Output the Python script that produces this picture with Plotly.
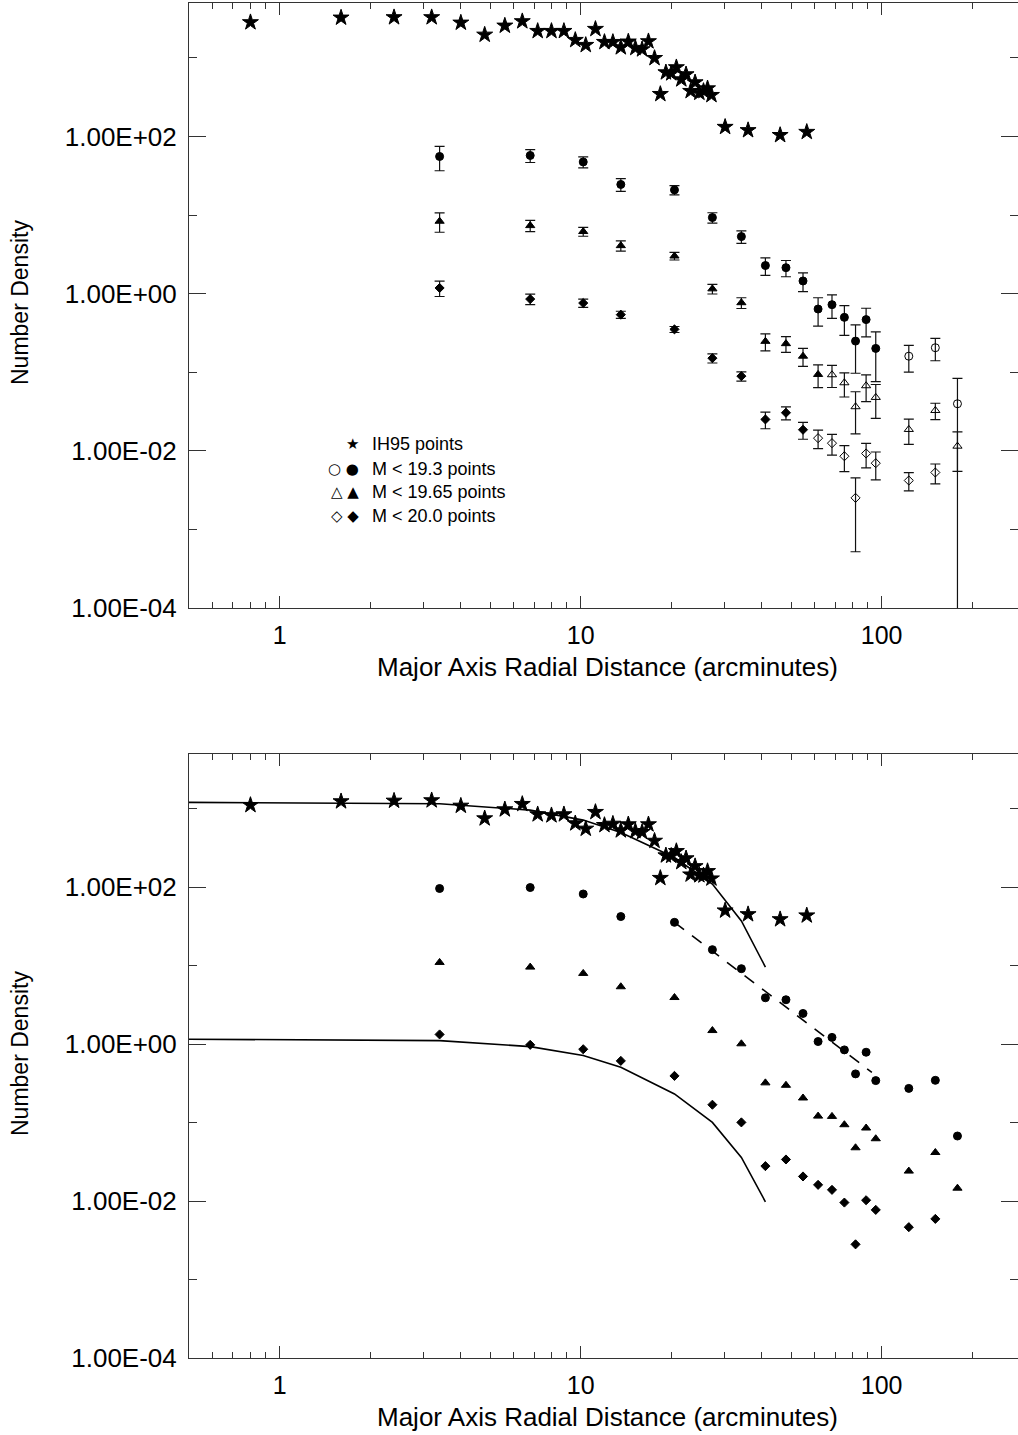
import plotly.graph_objects as go

# ---------------- data ----------------
# IH95 star points (radius in arcmin)
r_star = [0.8, 1.6, 2.4, 3.2, 4.0, 4.8, 5.6, 6.4, 7.2, 8.0, 8.8, 9.6, 10.4, 11.2,
          12.0, 12.8, 13.6, 14.4, 15.2, 16.0, 16.8, 17.6, 18.4, 19.2, 20.0, 20.8,
          21.6, 22.4, 23.2, 24.0, 24.8, 25.6, 26.4, 27.2, 30.2, 36.0, 46.0, 56.4]
n_star_top = [2833, 3245, 3280, 3280, 2800, 1968, 2564, 2917, 2193, 2193, 2193, 1686,
              1456, 2328, 1589, 1589, 1361, 1608, 1334, 1282, 1622, 993, 346, 653,
              635, 757, 532, 616, 378, 487, 359, 378, 408, 336, 132, 120, 104, 114]
n_star_bot = [1114, 1242, 1264, 1279, 1091, 753, 981, 1148, 848, 824, 848, 651,
              556, 908, 619, 643, 530, 632, 519, 504, 632, 390, 131, 254,
              251, 288, 209, 233, 145, 185, 142, 141, 160, 129, 50.4, 45.2, 39.0, 43.6]

# radial bins of the new points
r_pts = [3.4, 6.8, 10.2, 13.6, 20.5, 27.4, 34.2, 41.1, 48.1, 54.8, 61.5, 68.4,
         75.2, 81.9, 88.8, 95.6, 123.1, 150.8, 178.6]

# M < 19.3 (circles)
circ_top = [55.6, 57.3, 47.4, 24.5, 20.9, 9.29, 5.32, 2.28, 2.14, 1.45, 0.637, 0.724,
            0.499, 0.249, 0.467, 0.201, 0.160, 0.205, 0.0397]
circ_err = [19.0, 10.7, 7.5, 4.5, 2.8, 1.4, 0.95, 0.57, 0.50, 0.39, 0.25, 0.24,
            0.205, 0.152, 0.185, 0.125, 0.060, 0.065, 0.044]
circ_bot = [96.3, 99.1, 82.0, 42.3, 35.7, 16.0, 9.16, 3.90, 3.68, 2.46, 1.08, 1.22,
            0.845, 0.418, 0.789, 0.343, 0.273, 0.346, 0.0675]
n_circ_filled = 16

# M < 19.65 (triangles)
tri_top = [8.34, 7.34, 6.17, 4.08, 3.01, 1.15, 0.767, 0.247, 0.231, 0.160, 0.0937,
           0.0929, 0.0734, 0.0364, 0.0673, 0.0478, 0.0187, 0.0326, 0.01146]
tri_err = [2.3, 1.2, 0.8, 0.6, 0.33, 0.16, 0.12, 0.06, 0.052, 0.041, 0.030,
           0.029, 0.025, 0.020, 0.025, 0.022, 0.0066, 0.0077, 0.006]
tri_bot = [11.0, 9.59, 7.97, 5.39, 3.93, 1.49, 1.01, 0.321, 0.299, 0.206, 0.121,
           0.120, 0.094, 0.0478, 0.0853, 0.0623, 0.0241, 0.0416, 0.0146]
n_tri_filled = 11

# M < 20.0 (diamonds)
dia_top = [1.18, 0.853, 0.759, 0.540, 0.351, 0.151, 0.0892, 0.0251, 0.0305, 0.01854,
           0.01449, 0.01251, 0.00853, 0.00252, 0.00925, 0.00696, 0.00419, 0.0053]
dia_err = [0.26, 0.13, 0.09, 0.057, 0.031, 0.020, 0.012, 0.006, 0.0058, 0.0045,
           0.0038, 0.0037, 0.0031, 0.0020, 0.0032, 0.0027, 0.0011, 0.0015]
dia_bot = [1.33, 0.98, 0.861, 0.612, 0.394, 0.169, 0.1007, 0.0279, 0.0339, 0.0206,
           0.0161, 0.0139, 0.00957, 0.00281, 0.01025, 0.00772, 0.00465, 0.00593]
n_dia_filled = 10

# model profiles (bottom panel)
r_model = [0.5, 3.4, 6.8, 10.2, 13.6, 20.5, 27.4, 34.2, 41.1]
model_hi = [1208, 1160, 961, 717, 497, 239, 110, 37.2, 9.6]
model_lo = [1.156, 1.11, 0.931, 0.715, 0.507, 0.232, 0.1006, 0.036, 0.0098]
# power-law fit (dashed)
r_fit = [20.5, 92.8]
n_fit = [35.7, 0.437]

# axis ticks
y_major = [1e-4, 1e-2, 1, 1e2]
y_major_text = ["1.00E-04", "1.00E-02", "1.00E+00", "1.00E+02"]
y_minor = [1e-3, 1e-1, 10, 1e3]
x_major = [1, 10, 100]
x_major_text = ["1", "10", "100"]
x_minor = [0.6, 0.7, 0.8, 0.9, 2, 3, 4, 5, 6, 7, 8, 9,
           20, 30, 40, 50, 60, 70, 80, 90, 200, 300]

legend_symbols = ["\u2605", "\u25CB \u25CF", "\u25B3 \u25B2", "\u25C7 \u25C6"]
legend_labels = ["IH95 points", "M < 19.3 points", "M < 19.65 points", "M < 20.0 points"]

# ---------------- figure ----------------
FONT = "Arial, Liberation Sans, Helvetica, sans-serif"
BLACK = "#000000"
AX = "#333333"
W, H = 1018, 1435
ML, MR, MT, MB = 189, 0, 3, 77
ph = H - MT - MB


def py(p):
    return (H - MB - p) / ph


def px(p):
    return (p - ML) / (W - ML - MR)


fig = go.Figure()

ebar = dict(type="data", symmetric=True, color="#111111", thickness=1.2, width=5)


def add_pts(x, y, err, symbol, size, xa, ya):
    tr = dict(x=x, y=y, mode="markers", xaxis=xa, yaxis=ya, showlegend=False,
              marker=dict(symbol=symbol, size=size, color=BLACK,
                          line=dict(color=BLACK, width=1)))
    if err is not None:
        tr["error_y"] = dict(array=err, **ebar)
    fig.add_trace(go.Scatter(**tr))


STAR = 12
# top panel
add_pts(r_star, n_star_top, None, "star", STAR, "x", "y")
add_pts(r_pts[:n_circ_filled], circ_top[:n_circ_filled], circ_err[:n_circ_filled], "circle", 8, "x", "y")
add_pts(r_pts[n_circ_filled:], circ_top[n_circ_filled:], circ_err[n_circ_filled:], "circle-open", 8, "x", "y")
add_pts(r_pts[:n_tri_filled], tri_top[:n_tri_filled], tri_err[:n_tri_filled], "triangle-up", 8, "x", "y")
add_pts(r_pts[n_tri_filled:], tri_top[n_tri_filled:], tri_err[n_tri_filled:], "triangle-up-open", 8, "x", "y")
add_pts(r_pts[:n_dia_filled], dia_top[:n_dia_filled], dia_err[:n_dia_filled], "diamond", 7, "x", "y")
add_pts(r_pts[n_dia_filled:len(dia_top)], dia_top[n_dia_filled:], dia_err[n_dia_filled:], "diamond-open", 7, "x", "y")

# bottom panel
fig.add_trace(go.Scatter(x=r_model, y=model_hi, mode="lines", xaxis="x2", yaxis="y2",
                         showlegend=False, line=dict(color=BLACK, width=1.6)))
fig.add_trace(go.Scatter(x=r_model, y=model_lo, mode="lines", xaxis="x2", yaxis="y2",
                         showlegend=False, line=dict(color=BLACK, width=1.6)))
fig.add_trace(go.Scatter(x=r_fit, y=n_fit, mode="lines", xaxis="x2", yaxis="y2",
                         showlegend=False, line=dict(color=BLACK, width=1.6, dash="12px,10px")))
add_pts(r_star, n_star_bot, None, "star", STAR, "x2", "y2")
add_pts(r_pts, circ_bot, None, "circle", 8, "x2", "y2")
add_pts(r_pts, tri_bot, None, "triangle-up", 8, "x2", "y2")
add_pts(r_pts[:len(dia_bot)], dia_bot, None, "diamond", 7, "x2", "y2")

xcommon = dict(type="log", range=[-0.30103, 2.453], showgrid=False, zeroline=False,
               showline=True, linecolor=AX, linewidth=1, mirror="ticks",
               ticks="inside", ticklen=12, tickcolor=AX, tickwidth=1,
               tickmode="array", tickvals=x_major, ticktext=x_major_text,
               tickfont=dict(family=FONT, size=25, color=BLACK),
               ticklabelstandoff=5,
               minor=dict(tickmode="array", tickvals=x_minor, ticks="inside",
                          ticklen=6, tickcolor=AX, tickwidth=1, showgrid=False))
ycommon = dict(type="log", range=[-4, 3.698], showgrid=False, zeroline=False,
               showline=True, linecolor=AX, linewidth=1, mirror="ticks",
               ticks="inside", ticklen=17, tickcolor=AX, tickwidth=1,
               tickmode="array", tickvals=y_major, ticktext=y_major_text,
               tickfont=dict(family=FONT, size=26, color=BLACK),
               ticklabelstandoff=6,
               minor=dict(tickmode="array", tickvals=y_minor, ticks="inside",
                          ticklen=8, tickcolor=AX, tickwidth=1, showgrid=False))

fig.update_layout(
    width=W, height=H, autosize=False,
    margin=dict(l=ML, r=MR, t=MT, b=MB, pad=0),
    paper_bgcolor="white", plot_bgcolor="white",
    font=dict(family=FONT, color=BLACK),
    xaxis=dict(anchor="y", domain=[0, 1], **xcommon),
    yaxis=dict(anchor="x", domain=[py(608), 1], **ycommon),
    xaxis2=dict(anchor="y2", domain=[0, 1], **xcommon),
    yaxis2=dict(anchor="x2", domain=[0, py(754)], **ycommon),
)

ann = []
# axis titles
for yc, xt in [(303, 667), (1054, 1417)]:
    ann.append(dict(text="Number Density", xref="paper", yref="paper", x=px(20), y=py(yc),
                    textangle=-90, showarrow=False, xanchor="center", yanchor="middle",
                    font=dict(family=FONT, size=23, color=BLACK)))
    ann.append(dict(text="Major Axis Radial Distance (arcminutes)", xref="paper", yref="paper",
                    x=px(607), y=py(xt), showarrow=False, xanchor="center", yanchor="middle",
                    font=dict(family=FONT, size=26, color=BLACK)))
# legend
for i, (sym, lab) in enumerate(zip(legend_symbols, legend_labels)):
    yy = py([444, 469, 492.3, 515.7][i])
    ann.append(dict(text=sym, xref="paper", yref="paper", x=px(361), y=yy, showarrow=False,
                    xanchor="right", yanchor="middle",
                    font=dict(family="DejaVu Sans", size=15, color=BLACK)))
    ann.append(dict(text=lab, xref="paper", yref="paper", x=px(370), y=yy, showarrow=False,
                    xanchor="left", yanchor="middle",
                    font=dict(family=FONT, size=18, color=BLACK)))
fig.update_layout(annotations=ann)

fig.write_html("out.html", config={"displayModeBar": False},
               post_script="document.body.style.margin='0';document.body.style.overflow='hidden';")
